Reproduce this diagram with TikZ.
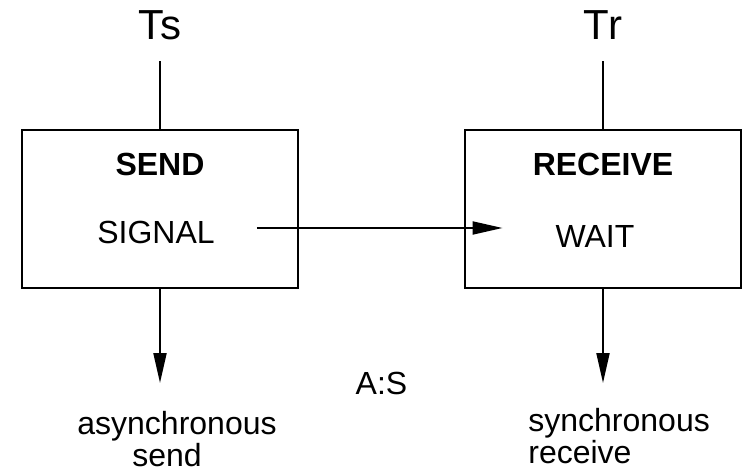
\documentclass[tikz,border=0pt]{standalone}
\usepackage{fontspec}
\setmainfont{Liberation Sans}
\usepackage{tikz}
\usetikzlibrary{positioning, arrows.meta, calc}

\begin{document}
\begin{tikzpicture}[
    box/.style={rectangle, draw, line width=1pt,
                minimum width=138pt, minimum height=79pt},
    boxtext/.style={font=\fontsize{16}{16}\selectfont, anchor=base},
    title/.style={font=\fontsize{16}{16}\selectfont\bfseries, anchor=base},
    tlabel/.style={font=\fontsize{21}{21}\selectfont, anchor=base},
    lbl/.style={font=\fontsize{16}{16}\selectfont, align=left,
                inner sep=0pt, anchor=base west},
    arr/.style={-{Triangle[length=15pt, width=6.5pt]}, line width=1pt},
    line/.style={line width=1pt},
]
\useasboundingbox (0,0) rectangle (373pt,-236.5pt);

% Boxes
\node[box] (send) at (80pt,-104.5pt) {};
\node[box, right=82.5pt of send] (recv) {};

% Box contents
\node[title] (sendtitle) at ([yshift=-23pt]send.north) {SEND};
\node[boxtext] (signal) at ([xshift=-2pt,yshift=-57pt]send.north) {SIGNAL};
\node[title] (recvtitle) at ([yshift=-23pt]recv.north) {RECEIVE};
\node[boxtext] (wait) at ([xshift=-4pt,yshift=-59pt]recv.north) {WAIT};

% Threads on top
\coordinate[above=34pt of send.north] (tsend);
\coordinate[above=34pt of recv.north] (trecv);
\node[tlabel, above=11pt of tsend, anchor=base] (ts) {Ts};
\node[tlabel, above=11pt of trecv, anchor=base] (tr) {Tr};
\draw[line] (tsend) -- (send);
\draw[line] (trecv) -- (recv);

% Outputs
\coordinate[below=47pt of send.south] (asyncend);
\coordinate[below=47pt of recv.south] (syncend);
\draw[arr] (send) -- (asyncend);
\draw[arr] (recv) -- (syncend);
\node[lbl] (asynclbl) at ([xshift=-41.5pt,yshift=-41.5pt]asyncend)
    {asynchronous\\\hspace*{27.5pt}send};
\node[lbl] (synclbl) at ([xshift=-37.5pt,yshift=-40pt]syncend)
    {synchronous\\receive};

\node[boxtext] (mode) at ([yshift=-52.5pt]$(send.south)!0.5!(recv.south)$) {A:S};

% Signal to wait
\draw[arr, shorten <=17.5pt, shorten >=23pt]
    ([yshift=2pt]signal.east) -- ([yshift=2pt]signal.east -| wait.west);

\end{tikzpicture}
\end{document}
